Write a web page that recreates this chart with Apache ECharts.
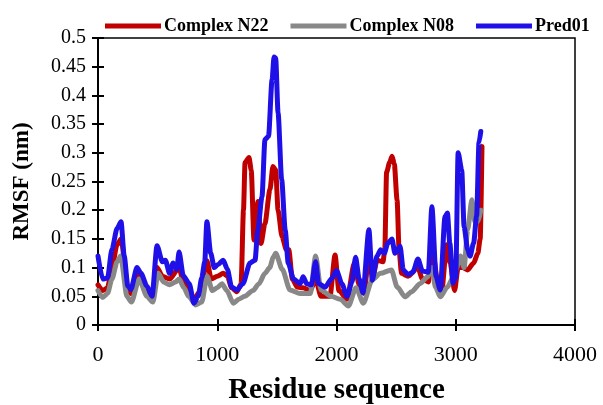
<!DOCTYPE html>
<html>
<head>
<meta charset="utf-8">
<script src="https://cdn.jsdelivr.net/npm/echarts@6/dist/echarts.min.js"></script>
<style>
    html, body { margin: 0; padding: 0; background: #fff; }
    #chart { width: 603px; height: 405px; }
</style>
</head>
<body>
<div id="chart"></div>
<script>
// residue positions and RMSF values
const n22Res = [0, 40, 80, 117, 160, 193, 250, 275, 327, 360, 410, 453, 495, 540, 600, 680, 715, 765, 805, 860, 913, 950, 1000, 1050, 1085, 1120, 1165, 1200, 1220, 1233, 1266, 1285, 1308, 1342, 1367, 1400, 1442, 1467, 1490, 1510, 1543, 1580, 1600, 1630, 1670, 1720, 1780, 1825, 1870, 1945, 1988, 2020, 2088, 2150, 2190, 2230, 2272, 2306, 2340, 2390, 2405, 2420, 2445, 2466, 2485, 2508, 2525, 2545, 2600, 2683, 2720, 2770, 2800, 2843, 2880, 2925, 2953, 2990, 3020, 3060, 3100, 3150, 3185, 3205, 3220];
const n22Rmsf = [0.07, 0.06, 0.065, 0.1, 0.14, 0.15, 0.065, 0.055, 0.09, 0.08, 0.062, 0.045, 0.1, 0.085, 0.08, 0.1, 0.075, 0.06, 0.045, 0.06, 0.112, 0.08, 0.085, 0.09, 0.085, 0.065, 0.058, 0.072, 0.2, 0.283, 0.292, 0.27, 0.148, 0.215, 0.142, 0.177, 0.236, 0.276, 0.27, 0.2, 0.154, 0.131, 0.131, 0.08, 0.066, 0.065, 0.06, 0.08, 0.05, 0.05, 0.122, 0.06, 0.045, 0.108, 0.07, 0.055, 0.12, 0.085, 0.113, 0.11, 0.131, 0.266, 0.283, 0.294, 0.28, 0.218, 0.13, 0.09, 0.085, 0.1, 0.08, 0.075, 0.14, 0.084, 0.055, 0.14, 0.108, 0.06, 0.1, 0.1, 0.096, 0.108, 0.125, 0.15, 0.311];

const n08Res = [0, 40, 80, 117, 160, 190, 243, 280, 345, 410, 460, 505, 550, 600, 650, 680, 720, 760, 820, 870, 915, 960, 1000, 1040, 1080, 1135, 1180, 1230, 1300, 1350, 1400, 1440, 1470, 1490, 1545, 1610, 1695, 1780, 1825, 1870, 1955, 2030, 2100, 2164, 2225, 2300, 2370, 2460, 2510, 2575, 2630, 2700, 2765, 2800, 2830, 2870, 2930, 2980, 3000, 3040, 3070, 3100, 3135, 3160, 3185, 3210];
const n08Rmsf = [0.06, 0.048, 0.055, 0.08, 0.11, 0.12, 0.05, 0.04, 0.08, 0.05, 0.04, 0.09, 0.075, 0.07, 0.075, 0.08, 0.065, 0.05, 0.035, 0.04, 0.085, 0.06, 0.065, 0.072, 0.06, 0.038, 0.045, 0.05, 0.06, 0.072, 0.09, 0.1, 0.118, 0.125, 0.097, 0.061, 0.055, 0.055, 0.12, 0.061, 0.05, 0.045, 0.033, 0.065, 0.038, 0.079, 0.09, 0.096, 0.066, 0.049, 0.058, 0.072, 0.084, 0.1, 0.066, 0.049, 0.066, 0.084, 0.096, 0.12, 0.1, 0.166, 0.218, 0.18, 0.18, 0.2];

const predRes = [0, 40, 80, 117, 160, 193, 220, 250, 275, 327, 360, 410, 453, 495, 540, 565, 600, 630, 660, 680, 715, 765, 805, 840, 870, 895, 913, 945, 975, 1005, 1050, 1085, 1120, 1165, 1215, 1275, 1317, 1340, 1375, 1400, 1430, 1460, 1476, 1490, 1510, 1540, 1570, 1595, 1640, 1695, 1720, 1750, 1790, 1825, 1850, 1905, 1960, 2000, 2045, 2088, 2130, 2160, 2190, 2222, 2272, 2300, 2340, 2370, 2400, 2432, 2465, 2490, 2533, 2560, 2600, 2640, 2683, 2720, 2770, 2800, 2835, 2870, 2910, 2930, 2950, 2977, 3000, 3020, 3050, 3070, 3100, 3120, 3150, 3175, 3195, 3210];
const predRmsf = [0.12, 0.08, 0.082, 0.132, 0.168, 0.18, 0.12, 0.068, 0.062, 0.1, 0.09, 0.068, 0.05, 0.138, 0.11, 0.113, 0.09, 0.108, 0.097, 0.127, 0.086, 0.072, 0.038, 0.05, 0.082, 0.11, 0.18, 0.125, 0.1, 0.105, 0.113, 0.097, 0.066, 0.061, 0.072, 0.108, 0.113, 0.165, 0.223, 0.323, 0.329, 0.428, 0.467, 0.465, 0.37, 0.254, 0.165, 0.108, 0.08, 0.072, 0.084, 0.072, 0.07, 0.11, 0.072, 0.066, 0.081, 0.095, 0.072, 0.05, 0.075, 0.118, 0.08, 0.056, 0.166, 0.078, 0.12, 0.131, 0.125, 0.143, 0.15, 0.125, 0.137, 0.096, 0.088, 0.092, 0.115, 0.094, 0.092, 0.206, 0.084, 0.061, 0.189, 0.195, 0.143, 0.073, 0.084, 0.3, 0.27, 0.171, 0.131, 0.12, 0.143, 0.19, 0.318, 0.337];

const seriesNames = ["Complex N22", "Complex N08", "Pred01"];
const seriesColors = ["#c00000", "#888888", "#2010e8"];

const zip = (xs, ys) => xs.map((x, i) => [x, ys[i]]);
const seriesData = [zip(n22Res, n22Rmsf), zip(n08Res, n08Rmsf), zip(predRes, predRmsf)];

const serif = "'Liberation Serif', 'DejaVu Serif', serif";

const chart = echarts.init(document.getElementById("chart"));

// axis with labels (ticks outside) + twin axis (ticks inside) so ticks cross the line
const baseX = { type: "value", min: 0, max: 4000, interval: 1000, gridIndex: 0 };
const baseY = { type: "value", min: 0, max: 0.5, interval: 0.05, gridIndex: 0 };

const option = {
    animation: false,
    backgroundColor: "#fff",
    grid: {
        left: 98,
        right: 28,
        top: 38,
        bottom: 80,
        outerBoundsMode: "none",
        containLabel: false,
        show: true,
        borderColor: "#000",
        borderWidth: 1.5,
    },
    legend: {
        top: 12,
        left: 100,
        itemWidth: 56,
        itemHeight: 5,
        itemGap: 22,
        icon: "rect",
        textStyle: { fontFamily: serif, fontWeight: "bold", fontSize: 18, color: "#000", padding: [0, 0, 0, -2] },
        data: seriesNames,
    },
    xAxis: [
        {
            ...baseX,
            name: "Residue sequence",
            nameLocation: "middle",
            nameGap: 51,
            nameTextStyle: { fontFamily: serif, fontWeight: "bold", fontSize: 29, color: "#000" },
            axisLine: { lineStyle: { color: "#000", width: 2 } },
            axisTick: { show: true, length: 6, lineStyle: { color: "#000", width: 2 } },
            axisLabel: { fontFamily: serif, fontSize: 22, color: "#000", margin: 19, formatter: (v) => String(v) },
            splitLine: { show: false },
        },
        {
            ...baseX,
            position: "bottom",
            axisLine: { show: false },
            axisTick: { show: true, inside: true, length: 6, lineStyle: { color: "#000", width: 2 } },
            axisLabel: { show: false },
            splitLine: { show: false },
        },
    ],
    yAxis: [
        {
            ...baseY,
            name: "RMSF (nm)",
            nameLocation: "middle",
            nameGap: 64,
            nameTextStyle: { fontFamily: serif, fontWeight: "bold", fontSize: 23, color: "#000" },
            axisLine: { show: true, lineStyle: { color: "#000", width: 2 } },
            axisTick: { show: true, length: 6, lineStyle: { color: "#000", width: 2 } },
            axisLabel: { fontFamily: serif, fontSize: 20, color: "#000", margin: 12 },
            splitLine: { show: false },
        },
        {
            ...baseY,
            position: "left",
            axisLine: { show: false },
            axisTick: { show: true, inside: true, length: 6, lineStyle: { color: "#000", width: 2 } },
            axisLabel: { show: false },
            splitLine: { show: false },
        },
    ],
    series: seriesNames.map((name, i) => ({
        name: name,
        type: "line",
        xAxisIndex: 0,
        yAxisIndex: 0,
        data: seriesData[i],
        showSymbol: false,
        smooth: 0.25,
        smoothMonotone: "x",
        color: seriesColors[i],
        lineStyle: { width: 5, color: seriesColors[i], join: "round", cap: "round" },
    })),
};

chart.setOption(option);
</script>
</body>
</html>
